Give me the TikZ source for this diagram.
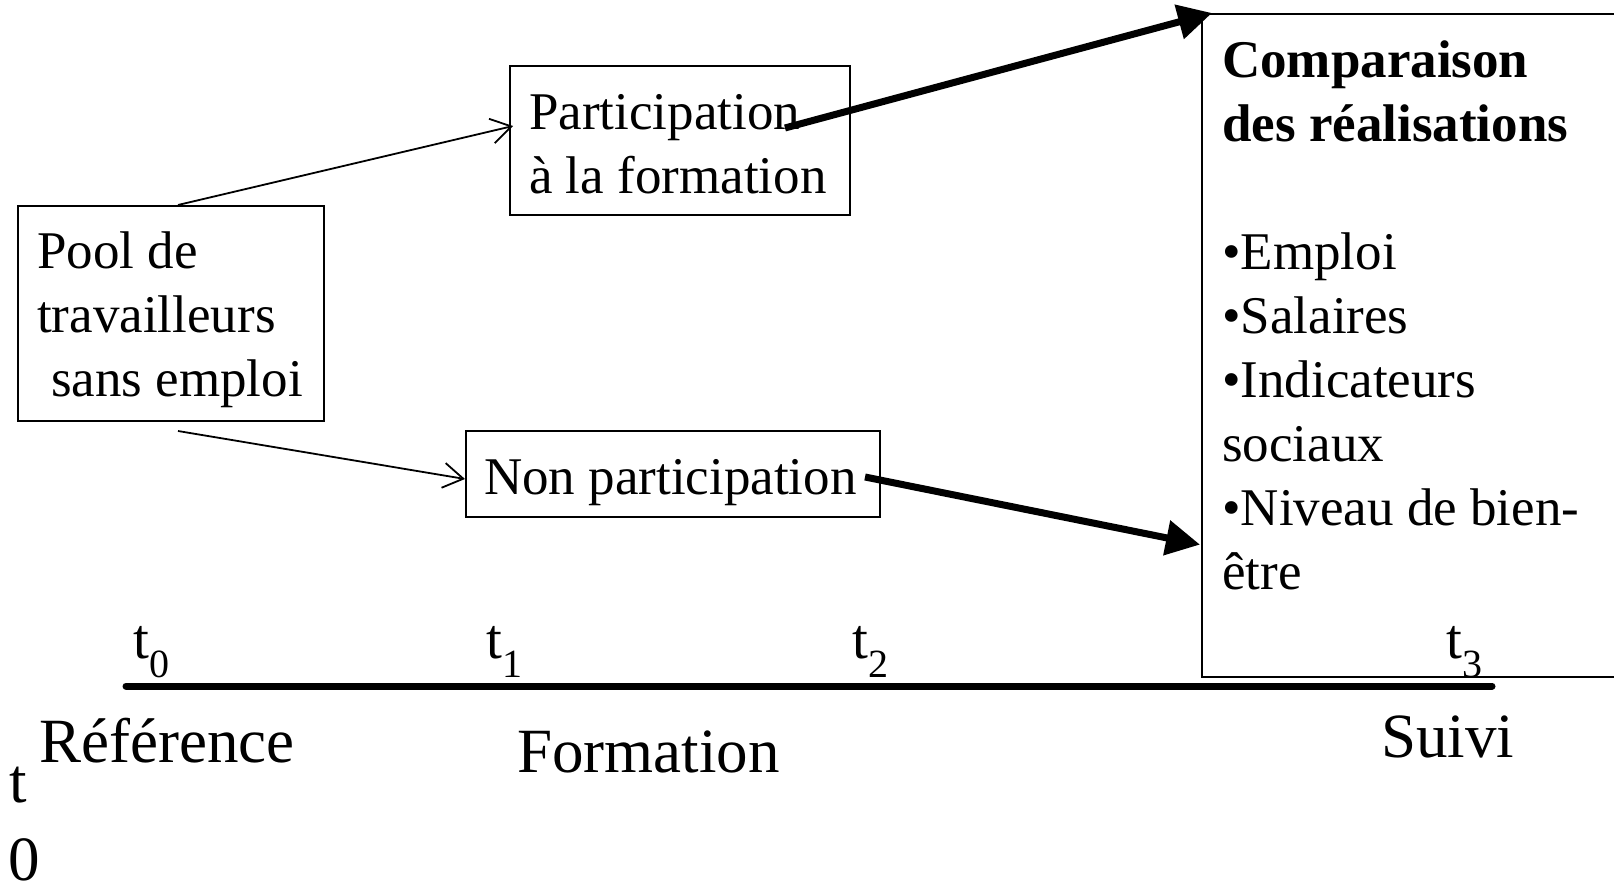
\documentclass[tikz,border=0pt]{standalone}
\usepackage{fontspec}
\setmainfont{Liberation Serif}
\usetikzlibrary{arrows.meta}
\begin{document}
\begin{tikzpicture}[x=1pt,y=-1pt,
  box/.style={draw, line width=2pt, inner sep=0pt, anchor=north west},
  txt/.style={inner sep=0pt, anchor=base west, align=left, font=\fontsize{53}{64}\selectfont},
  lbl/.style={inner sep=0pt, anchor=base west, font=\fontsize{63}{64}\selectfont},
  tlab/.style={inner sep=0pt, anchor=base west, font=\fontsize{57}{64}\selectfont},
  thinarrow/.style={line width=1.8pt, -{Straight Barb[length=20pt,width=25pt]}},
  thickarrow/.style={line width=7pt, -{Triangle[length=34pt,width=34pt]}},
  timeline/.style={line width=7pt, line cap=round}]
\clip (0,0) rectangle (1614,882);
% boxes
\node[box, minimum width=306pt, minimum height=215pt] (pool) at (17,205) {};
\node[box, minimum width=340pt, minimum height=149pt] (part) at (509,65) {};
\node[box, minimum width=414pt, minimum height=86pt] (np) at (465,430) {};
\node[box, line width=1.6pt, minimum width=440pt, minimum height=663pt] (comp) at (1201,13) {};
% texts (anchored at the baseline of their last line)
\node[txt] (pooltxt) at (37,396) {Pool de\\travailleurs\\\hspace*{14pt}sans emploi};
\node[txt] (parttxt) at (529,194) {Participation\\à la formation};
\node[txt] (nptxt) at (484,494) {Non participation};
\node[txt] (comptxt) at (1222,589) {\textbf{Comparaison}\\\textbf{des réalisations}\\[64pt]•Emploi\\•Salaires\\•Indicateurs\\sociaux\\•Niveau de bien-\\être};
% connectors
\draw[thinarrow] ([xshift=7pt]pool.north) -- ([xshift=4pt,yshift=14.5pt]part.west);
\draw[thinarrow] ([xshift=7pt,yshift=-9pt]pool.south) -- ([yshift=-5pt]np.west);
\draw[thickarrow] ([xshift=-66pt,yshift=12.5pt]part.east) -- ([xshift=11pt]comp.north west);
\draw[thickarrow] ([xshift=-16pt,yshift=-3pt]np.east) -- ([xshift=-1pt,yshift=133pt]comp.south west);
% timeline
\coordinate (tlA) at (126,686);
\coordinate (tlB) at (1492,686);
\draw[timeline] (tlA) -- (tlB);
\node[tlab] (t0) at (133,658) {t\raisebox{-19pt}{\fontsize{40}{40}\selectfont 0}};
\node[tlab] (t1) at (486,658) {t\raisebox{-19pt}{\fontsize{40}{40}\selectfont 1}};
\node[tlab] (t2) at (852,658) {t\raisebox{-19pt}{\fontsize{40}{40}\selectfont 2}};
\node[tlab] (t3) at (1446,658) {t\raisebox{-19pt}{\fontsize{40}{40}\selectfont 3}};
\node[lbl] (ref) at (39,762) {Référence};
\node[lbl] (form) at (517,772) {Formation};
\node[lbl] (suivi) at (1381,757) {Suivi};
\node[lbl] (tt) at (9,802) {t};
\node[lbl] (tz) at (8,880) {0};
\end{tikzpicture}
\end{document}
